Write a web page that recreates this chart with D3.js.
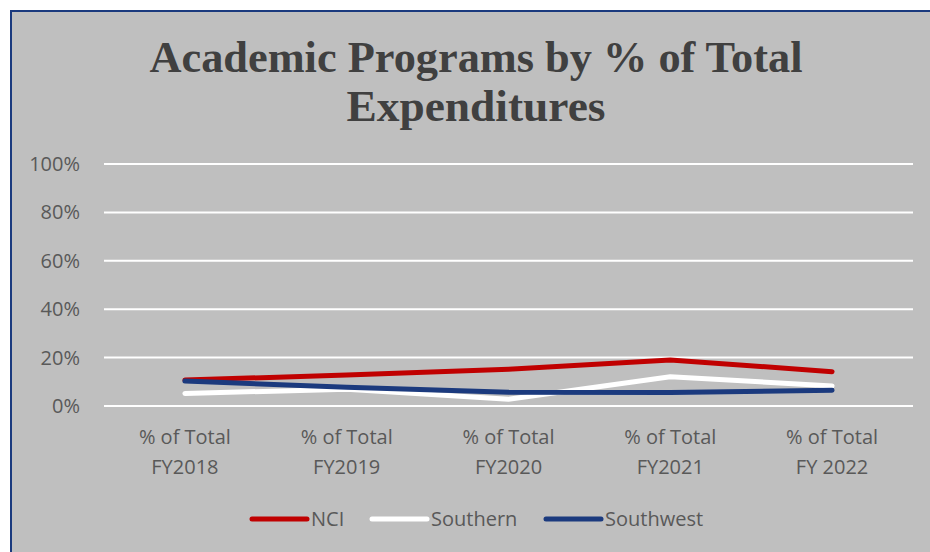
<!DOCTYPE html>
<html>
<head>
  <script src="https://d3js.org/d3.v7.min.js"></script>
  <style>
    body { margin: 0; background: #fff; }
    .tick-label { font-family: "Open Sans", "Liberation Sans", sans-serif; fill: #595959; font-size: 20px; }
  </style>
</head>
<body>
  <script>
    // chart values
    var categories = ["% of Total|FY2018", "% of Total|FY2019", "% of Total|FY2020", "% of Total|FY2021", "% of Total|FY 2022"];
    var seriesNames = ["NCI", "Southern", "Southwest"];
    var nci = [0.107, 0.128, 0.152, 0.190, 0.142];
    var southern = [0.052, 0.069, 0.028, 0.121, 0.083];
    var southwest = [0.103, 0.077, 0.057, 0.056, 0.065];
    var yTicks = [0, 0.2, 0.4, 0.6, 0.8, 1.0];
    var seriesColors = ["#c00000", "#ffffff", "#1b3a7e"];

    var width = 930, height = 552;
    var svg = d3.select("body").append("svg").attr("width", width).attr("height", height);

    // chart area with border
    svg.append("rect").attr("x", 11).attr("y", 11).attr("width", width + 10).attr("height", height + 10)
      .attr("fill", "#bfbfbf").attr("stroke", "#1b3a7e").attr("stroke-width", 2);

    // title
    var title = svg.append("text").attr("text-anchor", "middle")
      .style("font-family", "'Liberation Serif', serif").style("font-weight", "bold")
      .style("font-size", "44px").attr("fill", "#404040");
    title.append("tspan").attr("x", 476).attr("y", 72).attr("textLength", 653).attr("lengthAdjust", "spacingAndGlyphs")
      .text("Academic Programs by % of Total");
    title.append("tspan").attr("x", 476).attr("y", 121).attr("textLength", 259).attr("lengthAdjust", "spacingAndGlyphs")
      .text("Expenditures");

    var x = d3.scaleBand().domain(categories).range([104, 913]);
    var y = d3.scaleLinear().domain([0, 1]).range([406, 164]);

    // gridlines
    svg.append("g").selectAll("line").data(yTicks).enter().append("line")
      .attr("x1", 104).attr("x2", 913)
      .attr("y1", function(d) { return y(d); }).attr("y2", function(d) { return y(d); })
      .attr("stroke", "#fff").attr("stroke-width", 2);

    // y axis labels
    svg.append("g").selectAll("text").data(yTicks).enter().append("text")
      .attr("class", "tick-label").attr("x", 80).attr("y", function(d) { return y(d); })
      .attr("dy", "0.35em").attr("text-anchor", "end")
      .text(d3.format(".0%"));

    // x axis labels
    var xl = svg.append("g").selectAll("text").data(categories).enter().append("text")
      .attr("class", "tick-label").attr("text-anchor", "middle");
    xl.each(function(d) {
      var parts = d.split("|");
      var t = d3.select(this);
      parts.forEach(function(p, i) {
        t.append("tspan").attr("x", x(d) + x.bandwidth() / 2).attr("y", 444 + i * 30).text(p);
      });
    });

    // lines
    var line = d3.line()
      .x(function(d, i) { return x(categories[i]) + x.bandwidth() / 2; })
      .y(function(d) { return y(d); });
    var allSeries = [nci, southern, southwest];
    allSeries.forEach(function(s, k) {
      svg.append("path").datum(s).attr("d", line)
        .attr("fill", "none").attr("stroke", seriesColors[k]).attr("stroke-width", 5)
        .attr("stroke-linecap", "round").attr("stroke-linejoin", "round");
    });

    // legend
    var legendX = [252, 372, 546];
    var lg = svg.append("g").selectAll("g").data(seriesNames).enter().append("g")
      .attr("transform", function(d, i) { return "translate(" + legendX[i] + ",519)"; });
    lg.append("line").attr("x1", 0).attr("x2", 55).attr("y1", 0).attr("y2", 0)
      .attr("stroke", function(d, i) { return seriesColors[i]; }).attr("stroke-width", 5)
      .attr("stroke-linecap", "round");
    lg.append("text").attr("class", "tick-label").attr("x", 59).attr("dy", "0.35em")
      .text(function(d) { return d; });
  </script>
</body>
</html>
